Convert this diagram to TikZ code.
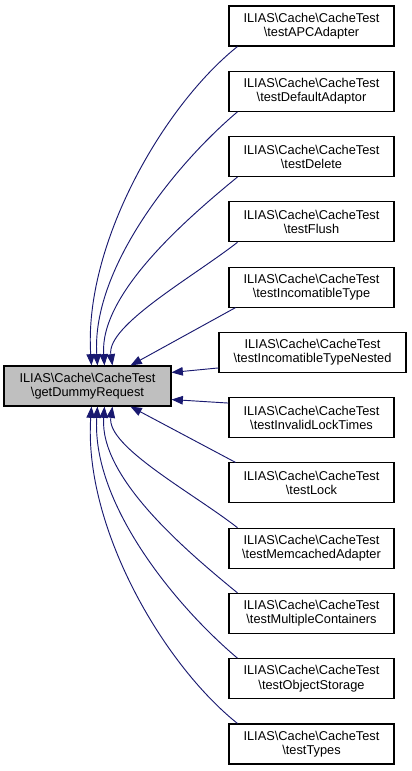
\documentclass[tikz,border=0pt]{standalone}
\usepackage{fontspec}
\setmainfont{Liberation Sans}
\usetikzlibrary{arrows.meta,calc}
\definecolor{edgeblue}{RGB}{25,25,112}
\definecolor{maingray}{RGB}{191,191,191}
\newcommand{\mybs}{\textbackslash}
\begin{document}
\begin{tikzpicture}[x=0.75pt,y=-0.75pt,
  box/.style={draw=black, line width=0.8pt, fill=white, minimum width=123.75pt, minimum height=30pt, inner sep=0pt, align=center, font=\fontsize{9.6}{10.6}\selectfont},
  widebox/.style={box, minimum width=140.25pt},
  mainbox/.style={box, fill=maingray, minimum width=125.25pt},
  edge/.style={draw=edgeblue, line width=0.7pt, -{Triangle[length=8.5pt,width=6.4pt]}}]
\useasboundingbox (0,0) rectangle (411,771);
\node[mainbox] (main) at (87.5,386) {ILIAS\mybs Cache\mybs CacheTest\\\mybs getDummyRequest};
\node[box] (b1) at (311.5,26) {ILIAS\mybs Cache\mybs CacheTest\\\mybs testAPCAdapter};
\node[box] (b2) at (311.5,91.3) {ILIAS\mybs Cache\mybs CacheTest\\\mybs testDefaultAdaptor};
\node[box] (b3) at (311.5,156.5) {ILIAS\mybs Cache\mybs CacheTest\\\mybs testDelete};
\node[box] (b4) at (311.5,221.8) {ILIAS\mybs Cache\mybs CacheTest\\\mybs testFlush};
\node[box] (b5) at (311.5,287.1) {ILIAS\mybs Cache\mybs CacheTest\\\mybs testIncomatibleType};
\node[widebox] (b6) at (312.5,352.4) {ILIAS\mybs Cache\mybs CacheTest\\\mybs testIncomatibleTypeNested};
\node[box] (b7) at (311.5,417.6) {ILIAS\mybs Cache\mybs CacheTest\\\mybs testInvalidLockTimes};
\node[box] (b8) at (311.5,482.9) {ILIAS\mybs Cache\mybs CacheTest\\\mybs testLock};
\node[box] (b9) at (311.5,548.2) {ILIAS\mybs Cache\mybs CacheTest\\\mybs testMemcachedAdapter};
\node[box] (b10) at (311.5,613.4) {ILIAS\mybs Cache\mybs CacheTest\\\mybs testMultipleContainers};
\node[box] (b11) at (311.5,678.7) {ILIAS\mybs Cache\mybs CacheTest\\\mybs testObjectStorage};
\node[box] (b12) at (311.5,744) {ILIAS\mybs Cache\mybs CacheTest\\\mybs testTypes};
% upper edges
\draw[edge] ($(b1.south west)+(9,0)$) .. controls +(-75,60) and +(-8,-120) .. ($(main.north west)+(88,0)$);
\draw[edge] ($(b2.south west)+(9,0)$) .. controls +(-65,55) and +(-6,-95) .. ($(main.north west)+(94,0)$);
\draw[edge] ($(b3.south west)+(9,0)$) .. controls +(-55,45) and +(-5,-70) .. ($(main.north west)+(101,0)$);
\draw[edge] ($(b4.south west)+(9,0)$) .. controls +(-45,35) and +(-6,-40) .. ($(main.north west)+(109,0)$);
\draw[edge] ($(b5.south west)+(7,0)$) -- ($(main.north west)+(127,0)$);
\draw[edge] ($(b6.south west)+(0,-5)$) -- ($(main.north east)+(0,7)$);
% lower edges
\draw[edge] ($(b7.north west)+(0,6)$) -- ($(main.south east)+(0,-7)$);
\draw[edge] ($(b8.north west)+(7,0)$) -- ($(main.south west)+(127,0)$);
\draw[edge] ($(b9.north west)+(9,0)$) .. controls +(-45,-35) and +(-6,40) .. ($(main.south west)+(109,0)$);
\draw[edge] ($(b10.north west)+(9,0)$) .. controls +(-55,-45) and +(-5,70) .. ($(main.south west)+(101,0)$);
\draw[edge] ($(b11.north west)+(9,0)$) .. controls +(-65,-55) and +(-6,95) .. ($(main.south west)+(94,0)$);
\draw[edge] ($(b12.north west)+(9,0)$) .. controls +(-75,-60) and +(-8,120) .. ($(main.south west)+(88,0)$);
\end{tikzpicture}
\end{document}
